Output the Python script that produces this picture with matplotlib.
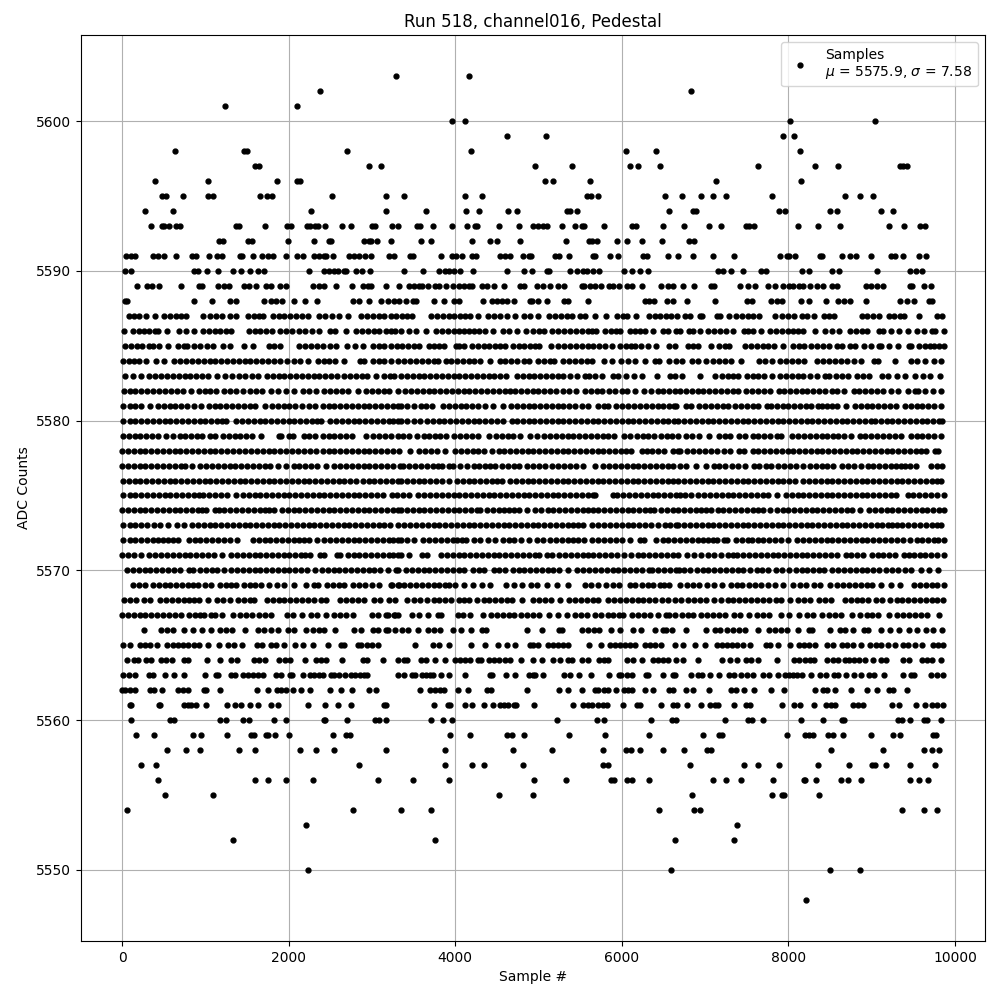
import numpy as np
import matplotlib
matplotlib.use('Agg')
import matplotlib.pyplot as plt

RUN = 518
CHANNEL = 'channel016'
MEAN = 5575.9
SIGMA = 7.58

# sample numbers, one list per ADC value
s5603 = [3284, 4160]
s5602 = [2372, 6836]
s5601 = [1232, 2096]
s5600 = [3956, 4112, 8024, 9044]
s5599 = [4616, 5096, 7940, 8072]
s5598 = [632, 1460, 1500, 2696, 4184, 6048, 6416, 8144]
s5597 = [1592, 1640, 2960, 3104, 4964, 5408, 6104, 6200, 6464, 7640, 8324, 8600, 9340, 9372, 9428]
s5596 = [392, 1028, 1856, 2096, 2140, 5084, 5180, 5624, 7136, 8156]
s5595 = [476, 524, 728, 1028, 1088, 1652, 1736, 1796, 2516, 3164, 3380, 4112, 4320, 5584, 5636, 5720, 6524, 6728, 6956,
         7100, 7256, 7808, 8684, 8864, 9020]
s5594 = [272, 608, 2264, 3164, 3644, 4124, 4280, 4628, 4736, 5348, 5380, 5468, 6572, 6860, 6888, 7892, 7964, 8500, 8580,
         9116, 9260]
s5593 = [344, 476, 500, 560, 644, 692, 1364, 1400, 1712, 1976, 2024, 2216, 2260, 2320, 2348, 2432, 2636, 2752, 2996, 3032,
         3236, 3308, 3536, 3572, 3728, 3956, 4140, 4232, 4260, 4520, 4760, 4932, 5000, 5052, 5108, 5288, 5444, 5520, 5548,
         5792, 6128, 6176, 6500, 6752, 7052, 7196, 7496, 7532, 7592, 8120, 8360, 8624, 9212, 9392, 9584, 9644]
s5592 = [1160, 1208, 1508, 1564, 1988, 2300, 2480, 2508, 2900, 2960, 2988, 3056, 3224, 3584, 3704, 4196, 4412, 4496, 4772,
         5336, 5612, 5648, 5708, 5948, 6068, 6248, 6488, 6812, 6872]
s5591 = [44, 104, 152, 368, 428, 500, 644, 836, 892, 1040, 1136, 1196, 1412, 1440, 1568, 1676, 1748, 1808, 1964, 2104, 2168,
         2300, 2360, 2420, 2452, 2528, 2720, 2780, 2840, 2912, 2984, 3200, 3260, 3460, 3492, 3824, 3956, 4004, 4076, 4196,
         4244, 4540, 4596, 4660, 4808, 4880, 4908, 5204, 5252, 5372, 5660, 5684, 5864, 5960, 6260, 6308, 6560, 6680, 6860,
         7100, 7352, 7904, 7988, 8012, 8084, 8384, 8404, 8648, 8744, 8816, 8996, 9236, 9284, 9380, 9572, 9656]
s5590 = [32, 104, 860, 908, 1016, 1148, 1328, 1424, 1532, 1628, 1700, 2240, 2420, 2480, 2540, 2588, 2660, 2692, 2804, 2876,
         2972, 3380, 3608, 3800, 3872, 3920, 3980, 4052, 4208, 4616, 4820, 4920, 5108, 5124, 5384, 5468, 5540, 5588, 5660,
         5732, 6032, 6128, 6224, 6320, 7160, 7220, 7316, 7460, 7676, 7732, 8168, 8252, 8528, 8612, 9068, 9464, 9528, 9608]
s5589 = [176, 296, 356, 440, 704, 920, 956, 1148, 1220, 1280, 1460, 1520, 1604, 1724, 1784, 1892, 1964, 2288, 2360, 2420,
         2564, 2756, 2888, 2948, 2984, 3164, 3328, 3440, 3500, 3560, 3600, 3668, 3752, 3800, 3884, 3968, 4040, 4100, 4160,
         4196, 4320, 4380, 4460, 4588, 4772, 4820, 4980, 5052, 5140, 5236, 5312, 5520, 5548, 5624, 5684, 5756, 5852, 5900,
         5972, 6068, 6128, 6244, 6476, 6560, 6620, 6740, 6872, 7076, 7112, 7424, 7520, 7604, 7756, 7844, 7940, 8012, 8060,
         8132, 8180, 8264, 8348, 8420, 8528, 8588, 8936, 8996, 9068, 9140, 9464, 9488, 9632, 9708]
s5588 = [40, 60, 860, 1076, 1292, 1368, 1700, 1784, 1844, 1916, 2060, 2192, 2344, 2768, 2840, 2960, 3104, 3188, 3260, 3320,
         3404, 3488, 3524, 3740, 3860, 3980, 4040, 4328, 4440, 4500, 4560, 4620, 4700, 4892, 4920, 5000, 5108, 5312, 5360,
         5600, 6284, 6332, 6392, 6548, 6620, 6788, 7124, 7508, 7568, 7796, 7860, 7920, 8156, 8252, 8456, 8600, 8672, 8744,
         8936, 9344, 9428, 9512, 9692, 9728]
s5587 = [80, 140, 200, 290, 392, 508, 580, 650, 710, 772, 968, 1060, 1130, 1200, 1290, 1372, 1508, 1580, 1640, 1692, 1808,
         1880, 1950, 2020, 2090, 2160, 2232, 2368, 2440, 2520, 2600, 2712, 2868, 2940, 3010, 3080, 3150, 3224, 3290, 3360,
         3420, 3480, 3704, 3780, 3850, 3920, 3990, 4060, 4120, 4180, 4268, 4396, 4470, 4540, 4620, 4720, 4824, 4900, 4992,
         5124, 5200, 5270, 5340, 5400, 5496, 5560, 5680, 5808, 5948, 6010, 6060, 6176, 6324, 6400, 6460, 6532, 6590, 6660,
         6764, 6820, 6944, 6968, 7144, 7180, 7284, 7372, 7440, 7510, 7580, 7648, 7844, 7924, 7990, 8068, 8164, 8228, 8304,
         8424, 8490, 8548, 8884, 8950, 9020, 9088, 9204, 9270, 9340, 9388, 9568, 9784, 9848]
s5586 = [20, 136, 200, 260, 328, 390, 432, 540, 688, 772, 860, 968, 1040, 1120, 1180, 1248, 1304, 1520, 1590, 1660, 1730,
         1800, 1896, 1970, 2040, 2120, 2200, 2280, 2360, 2500, 2560, 2692, 2808, 2880, 2950, 3020, 3090, 3170, 3230, 3280,
         3352, 3440, 3532, 3652, 3764, 3840, 3910, 3980, 4050, 4110, 4160, 4228, 4290, 4352, 4448, 4568, 4640, 4740, 4848,
         4938, 5008, 5068, 5168, 5240, 5308, 5376, 5450, 5528, 5600, 5640, 5688, 5796, 5876, 5936, 5980, 6096, 6160, 6220,
         6284, 6380, 6496, 6560, 6648, 6700, 6804, 6850, 6940, 7036, 7110, 7180, 7248, 7336, 7464, 7520, 7580, 7676, 7784,
         7850, 7920, 7990, 8056, 8112, 8176, 8320, 8444, 8520, 8612, 8740, 8810, 8880, 8950, 9084, 9140, 9236, 9328, 9436,
         9540, 9628, 9724, 9760, 9868]
s5585 = [40, 108, 180, 240, 320, 372, 440, 552, 668, 740, 780, 868, 940, 1020, 1092, 1208, 1292, 1460, 1568, 1768, 1830,
         1892, 2128, 2200, 2270, 2340, 2410, 2500, 2572, 2700, 2796, 2892, 3008, 3080, 3150, 3230, 3300, 3356, 3430, 3500,
         3568, 3684, 3748, 3808, 3868, 4004, 4040, 4108, 4196, 4270, 4340, 4410, 4480, 4540, 4600, 4688, 4760, 4830, 4900,
         4960, 5008, 5148, 5236, 5310, 5380, 5450, 5520, 5590, 5660, 5730, 5800, 5880, 5980, 6056, 6108, 6160, 6236, 6310,
         6408, 6568, 6644, 6796, 6856, 6916, 7072, 7168, 7236, 7288, 7484, 7550, 7620, 7690, 7760, 7830, 7940, 8060, 8130,
         8188, 8272, 8340, 8420, 8488, 8584, 8650, 8740, 8804, 8904, 8988, 9084, 9116, 9204, 9316, 9444, 9468, 9564, 9640,
         9700, 9748, 9808, 9868]
s5584 = [8, 80, 140, 200, 292, 408, 504, 628, 700, 770, 840, 910, 980, 1050, 1120, 1190, 1260, 1330, 1400, 1470, 1540, 1610,
         1680, 1750, 1820, 1900, 1980, 2060, 2140, 2232, 2348, 2420, 2490, 2560, 2664, 2856, 2904, 3008, 3080, 3150, 3230,
         3316, 3390, 3460, 3530, 3600, 3670, 3740, 3792, 3884, 3950, 4020, 4090, 4160, 4230, 4300, 4420, 4536, 4600, 4670,
         4740, 4820, 4880, 5000, 5070, 5140, 5188, 5300, 5370, 5440, 5510, 5580, 5640, 5784, 5880, 5996, 6080, 6164, 6280,
         6404, 6448, 6572, 6650, 6728, 6844, 6920, 7008, 7100, 7170, 7240, 7316, 7436, 7652, 7720, 7808, 7904, 7970, 8040,
         8110, 8188, 8344, 8420, 8490, 8560, 8630, 8700, 8790, 8876, 9032, 9076, 9284, 9476, 9544, 9640, 9744, 9836]
s5583 = [40, 128, 232, 328, 400, 470, 540, 610, 680, 750, 820, 890, 960, 1030, 1144, 1240, 1320, 1400, 1480, 1560, 1632,
         1736, 1810, 1880, 1950, 2020, 2090, 2160, 2230, 2300, 2370, 2440, 2510, 2580, 2660, 2740, 2810, 2880, 2944, 3048,
         3148, 3220, 3270, 3350, 3416, 3490, 3560, 3630, 3700, 3770, 3840, 3910, 3980, 4050, 4120, 4190, 4260, 4330, 4400,
         4470, 4540, 4612, 4736, 4810, 4880, 4950, 5020, 5090, 5160, 5230, 5300, 5380, 5460, 5556, 5608, 5680, 5768, 5900,
         5960, 6056, 6148, 6248, 6424, 6584, 6644, 6728, 6936, 7124, 7208, 7276, 7340, 7396, 7504, 7570, 7640, 7710, 7808,
         7904, 7970, 8040, 8110, 8180, 8260, 8340, 8444, 8488, 8576, 8650, 8720, 8828, 8896, 8968, 9124, 9200, 9308, 9396,
         9516, 9616, 9704, 9816]
s5582 = [28, 100, 152, 228, 300, 372, 448, 520, 590, 660, 730, 832, 928, 1000, 1060, 1132, 1220, 1300, 1370, 1452, 1540,
         1610, 1680, 1792, 1868, 1972, 2068, 2172, 2248, 2332, 2428, 2500, 2570, 2640, 2710, 2832, 2928, 3000, 3070, 3140,
         3210, 3312, 3396, 3470, 3540, 3610, 3680, 3750, 3820, 3890, 3960, 4030, 4100, 4170, 4240, 4310, 4380, 4450, 4520,
         4592, 4660, 4716, 4790, 4860, 4930, 5000, 5070, 5140, 5210, 5290, 5368, 5452, 5564, 5630, 5700, 5768, 5848, 5920,
         6008, 6068, 6156, 6272, 6356, 6430, 6500, 6570, 6640, 6700, 6770, 6840, 6910, 6980, 7050, 7120, 7190, 7260, 7330,
         7400, 7488, 7564, 7640, 7710, 7780, 7888, 7952, 8020, 8090, 8160, 8230, 8300, 8370, 8440, 8520, 8590, 8668, 8784,
         8850, 8920, 8990, 9060, 9140, 9228, 9316, 9436, 9516, 9556, 9644, 9740, 9832]
s5581 = [16, 90, 160, 230, 332, 428, 500, 570, 640, 710, 780, 860, 952, 1040, 1110, 1180, 1250, 1320, 1390, 1460, 1530,
         1600, 1712, 1796, 1870, 1940, 2010, 2080, 2160, 2240, 2312, 2408, 2480, 2550, 2620, 2690, 2760, 2830, 2900, 2970,
         3040, 3110, 3180, 3250, 3312, 3350, 3420, 3500, 3584, 3650, 3716, 3856, 3924, 4000, 4070, 4130, 4200, 4270, 4352,
         4448, 4568, 4668, 4740, 4810, 4880, 4950, 5020, 5090, 5160, 5230, 5300, 5370, 5440, 5520, 5592, 5716, 5790, 5840,
         5928, 6004, 6080, 6150, 6220, 6290, 6360, 6430, 6500, 6570, 6630, 6656, 6772, 6836, 6924, 7000, 7070, 7140, 7210,
         7280, 7364, 7430, 7500, 7570, 7640, 7748, 7788, 7864, 7930, 8000, 8070, 8140, 8210, 8276, 8356, 8410, 8468, 8524,
         8588, 8688, 8796, 8870, 8940, 9010, 9080, 9150, 9220, 9288, 9396, 9470, 9540, 9610, 9680, 9750, 9828]
s5580 = [16, 90, 160, 230, 300, 370, 440, 510, 580, 650, 720, 790, 860, 930, 1000, 1070, 1140, 1200, 1252, 1368, 1440, 1510,
         1580, 1650, 1720, 1790, 1860, 1930, 2000, 2070, 2140, 2212, 2280, 2340, 2392, 2496, 2570, 2640, 2710, 2780, 2850,
         2920, 2990, 3060, 3130, 3200, 3250, 3312, 3350, 3420, 3500, 3572, 3656, 3730, 3800, 3870, 3940, 4010, 4080, 4150,
         4220, 4290, 4360, 4430, 4500, 4570, 4680, 4736, 4810, 4880, 4950, 5020, 5090, 5160, 5230, 5300, 5370, 5440, 5510,
         5580, 5650, 5720, 5790, 5860, 5930, 6000, 6070, 6140, 6210, 6280, 6350, 6420, 6490, 6560, 6630, 6680, 6750, 6820,
         6890, 6960, 7030, 7100, 7170, 7240, 7310, 7380, 7450, 7520, 7590, 7660, 7730, 7800, 7870, 7940, 8010, 8080, 8150,
         8220, 8290, 8360, 8430, 8500, 8570, 8640, 8710, 8780, 8850, 8920, 8990, 9040, 9112, 9180, 9250, 9320, 9390, 9460,
         9530, 9600, 9670, 9740, 9810, 9848]
s5579 = [8, 80, 150, 220, 290, 360, 430, 532, 616, 690, 760, 830, 900, 960, 1056, 1120, 1208, 1280, 1350, 1420, 1490, 1560,
         1672, 1880, 1912, 2000, 2052, 2188, 2250, 2312, 2408, 2480, 2550, 2620, 2690, 2760, 2932, 3016, 3090, 3160, 3230,
         3312, 3368, 3444, 3536, 3620, 3688, 3752, 3816, 3892, 3988, 4060, 4130, 4200, 4270, 4400, 4488, 4560, 4628, 4696,
         4776, 4900, 4984, 5068, 5140, 5210, 5280, 5350, 5420, 5490, 5560, 5630, 5700, 5770, 5840, 5912, 6024, 6104, 6180,
         6250, 6320, 6390, 6470, 6540, 6608, 6680, 6770, 6840, 6928, 7044, 7168, 7236, 7300, 7408, 7484, 7572, 7640, 7710,
         7780, 7860, 7916, 8044, 8120, 8190, 8260, 8330, 8400, 8470, 8540, 8600, 8668, 8752, 8860, 8916, 8992, 9070, 9140,
         9210, 9280, 9356, 9472, 9540, 9610, 9680, 9750, 9836]
s5578 = [0, 70, 140, 210, 280, 350, 420, 490, 560, 630, 700, 770, 840, 910, 980, 1050, 1120, 1190, 1260, 1330, 1400, 1480,
         1552, 1616, 1690, 1760, 1830, 1900, 1970, 2040, 2110, 2180, 2260, 2332, 2408, 2480, 2550, 2620, 2690, 2760, 2830,
         2900, 2970, 3040, 3110, 3180, 3250, 3328, 3460, 3560, 3640, 3710, 3780, 3872, 4000, 4070, 4140, 4210, 4270, 4340,
         4444, 4520, 4590, 4660, 4730, 4800, 4870, 4940, 5010, 5080, 5150, 5220, 5290, 5360, 5430, 5500, 5570, 5640, 5710,
         5780, 5850, 5920, 5990, 6050, 6112, 6244, 6300, 6360, 6436, 6512, 6616, 6680, 6696, 6784, 6860, 6930, 7000, 7070,
         7148, 7224, 7300, 7404, 7468, 7572, 7640, 7710, 7780, 7850, 7920, 7990, 8060, 8130, 8200, 8270, 8340, 8410, 8480,
         8550, 8620, 8690, 8760, 8830, 8900, 8970, 9040, 9110, 9180, 9250, 9320, 9390, 9460, 9530, 9590, 9648, 9764, 9796]
s5577 = [0, 70, 140, 210, 280, 350, 420, 490, 560, 632, 708, 760, 836, 936, 1010, 1080, 1150, 1220, 1290, 1360, 1430, 1500,
         1572, 1640, 1710, 1772, 1868, 1972, 2060, 2130, 2200, 2270, 2340, 2452, 2548, 2620, 2690, 2760, 2830, 2900, 2970,
         3040, 3110, 3180, 3252, 3340, 3376, 3450, 3520, 3590, 3660, 3730, 3790, 3840, 3928, 3976, 4060, 4144, 4220, 4290,
         4360, 4420, 4480, 4556, 4630, 4700, 4770, 4860, 4936, 5010, 5080, 5160, 5236, 5310, 5380, 5450, 5540, 5680, 5776,
         5850, 5920, 5990, 6060, 6130, 6200, 6270, 6340, 6410, 6480, 6550, 6620, 6700, 6770, 6888, 7016, 7104, 7168, 7244,
         7320, 7396, 7484, 7588, 7652, 7728, 7792, 7876, 7944, 8020, 8090, 8176, 8260, 8330, 8400, 8470, 8540, 8648, 8716,
         8790, 8876, 8952, 9020, 9090, 9160, 9230, 9290, 9348, 9396, 9456, 9536, 9712, 9780, 9848]
s5576 = [8, 80, 150, 220, 290, 360, 430, 500, 570, 640, 710, 780, 850, 920, 990, 1060, 1130, 1200, 1270, 1340, 1410, 1480,
         1550, 1620, 1690, 1760, 1830, 1900, 1970, 2040, 2110, 2180, 2250, 2320, 2390, 2460, 2530, 2600, 2670, 2740, 2812,
         2888, 2960, 3030, 3100, 3170, 3240, 3312, 3350, 3420, 3490, 3560, 3630, 3700, 3770, 3840, 3920, 4016, 4090, 4160,
         4230, 4300, 4370, 4440, 4500, 4560, 4656, 4730, 4800, 4870, 4940, 5010, 5080, 5150, 5220, 5290, 5360, 5430, 5500,
         5570, 5640, 5710, 5780, 5850, 5920, 5990, 6060, 6130, 6200, 6270, 6340, 6410, 6480, 6550, 6620, 6680, 6750, 6820,
         6890, 6960, 7030, 7100, 7170, 7240, 7310, 7380, 7450, 7520, 7590, 7660, 7730, 7800, 7870, 7940, 8010, 8076, 8176,
         8250, 8320, 8390, 8460, 8530, 8600, 8670, 8740, 8810, 8880, 8950, 9020, 9090, 9160, 9230, 9300, 9370, 9440, 9510,
         9580, 9650, 9720, 9780, 9836]
s5575 = [16, 90, 160, 230, 300, 370, 440, 510, 580, 650, 720, 790, 860, 920, 972, 1048, 1120, 1190, 1260, 1372, 1448, 1520,
         1590, 1660, 1730, 1800, 1870, 1940, 2010, 2080, 2150, 2220, 2290, 2360, 2430, 2500, 2570, 2640, 2710, 2780, 2850,
         2920, 2990, 3060, 3130, 3236, 3300, 3370, 3440, 3556, 3630, 3700, 3770, 3840, 3910, 3980, 4050, 4120, 4190, 4260,
         4330, 4400, 4470, 4540, 4610, 4680, 4750, 4820, 4890, 4960, 5030, 5100, 5170, 5240, 5310, 5380, 5450, 5520, 5590,
         5660, 5680, 5896, 5940, 6016, 6090, 6160, 6230, 6300, 6370, 6440, 6510, 6580, 6650, 6700, 6760, 6828, 6916, 6992,
         7060, 7130, 7200, 7270, 7340, 7410, 7480, 7550, 7620, 7690, 7760, 7860, 7972, 8040, 8110, 8180, 8250, 8320, 8390,
         8460, 8530, 8600, 8670, 8740, 8810, 8880, 8950, 9020, 9090, 9160, 9230, 9288, 9432, 9500, 9570, 9640, 9710, 9780,
         9868]
s5574 = [0, 70, 140, 210, 280, 350, 420, 490, 560, 630, 700, 770, 840, 910, 960, 1012, 1120, 1160, 1228, 1300, 1370, 1440,
         1510, 1580, 1650, 1720, 1770, 1824, 1916, 1990, 2060, 2130, 2200, 2270, 2340, 2410, 2480, 2550, 2620, 2690, 2760,
         2830, 2900, 2970, 3040, 3110, 3180, 3250, 3312, 3350, 3420, 3490, 3560, 3630, 3700, 3770, 3840, 3910, 3980, 4050,
         4120, 4190, 4260, 4300, 4376, 4450, 4520, 4580, 4648, 4708, 4768, 4856, 4960, 5036, 5110, 5180, 5250, 5320, 5390,
         5460, 5530, 5600, 5660, 5720, 5788, 5860, 5930, 6000, 6070, 6140, 6210, 6280, 6340, 6392, 6468, 6540, 6610, 6676,
         6748, 6820, 6890, 6950, 7008, 7076, 7150, 7220, 7290, 7360, 7430, 7500, 7570, 7640, 7700, 7784, 7860, 7930, 8000,
         8070, 8140, 8210, 8280, 8350, 8420, 8490, 8560, 8630, 8700, 8770, 8860, 8972, 9040, 9110, 9180, 9250, 9320, 9390,
         9460, 9530, 9600, 9670, 9740, 9810, 9868]
s5573 = [16, 90, 160, 230, 300, 384, 452, 552, 656, 744, 840, 910, 980, 1050, 1120, 1190, 1260, 1330, 1400, 1470, 1540,
         1610, 1680, 1750, 1820, 1890, 1960, 2030, 2100, 2170, 2240, 2310, 2380, 2450, 2520, 2590, 2660, 2730, 2800, 2870,
         2940, 3010, 3080, 3150, 3220, 3312, 3390, 3460, 3530, 3600, 3670, 3740, 3810, 3880, 3950, 4020, 4090, 4160, 4230,
         4300, 4370, 4440, 4510, 4580, 4650, 4720, 4790, 4860, 4930, 5000, 5070, 5140, 5210, 5280, 5350, 5420, 5480, 5540,
         5644, 5720, 5790, 5860, 5930, 6000, 6070, 6140, 6210, 6280, 6350, 6430, 6520, 6580, 6650, 6680, 6750, 6820, 6890,
         6960, 7030, 7100, 7170, 7240, 7310, 7380, 7450, 7520, 7590, 7660, 7730, 7800, 7870, 7940, 8010, 8080, 8150, 8220,
         8290, 8360, 8430, 8500, 8570, 8640, 8710, 8780, 8850, 8920, 8990, 9060, 9130, 9200, 9250, 9308, 9364, 9440, 9510,
         9580, 9650, 9720, 9780, 9836]
s5572 = [16, 90, 160, 230, 300, 370, 430, 492, 556, 610, 672, 800, 870, 940, 1010, 1080, 1150, 1220, 1292, 1376, 1568, 1640,
         1710, 1780, 1850, 1920, 1990, 2060, 2130, 2190, 2240, 2340, 2428, 2500, 2570, 2640, 2710, 2780, 2850, 2920, 2990,
         3060, 3130, 3200, 3250, 3312, 3350, 3420, 3500, 3616, 3690, 3760, 3830, 3900, 3970, 4020, 4080, 4128, 4228, 4300,
         4396, 4476, 4568, 4640, 4710, 4792, 4888, 4984, 5060, 5136, 5210, 5280, 5350, 5420, 5480, 5548, 5640, 5716, 5790,
         5860, 5930, 6000, 6100, 6216, 6272, 6416, 6490, 6560, 6630, 6700, 6770, 6840, 6910, 6980, 7040, 7090, 7148, 7224,
         7268, 7372, 7440, 7510, 7560, 7632, 7700, 7770, 7840, 7910, 7996, 8104, 8180, 8250, 8320, 8390, 8460, 8530, 8600,
         8670, 8740, 8810, 8880, 8950, 9020, 9090, 9160, 9230, 9300, 9380, 9464, 9540, 9610, 9680, 9750, 9800, 9868]
s5571 = [0, 70, 140, 232, 328, 400, 470, 540, 610, 680, 750, 820, 890, 960, 1030, 1100, 1200, 1308, 1380, 1450, 1520, 1590,
         1660, 1730, 1800, 1870, 1940, 2010, 2080, 2150, 2200, 2252, 2376, 2424, 2576, 2612, 2708, 2780, 2850, 2920, 2990,
         3060, 3130, 3200, 3250, 3312, 3350, 3448, 3596, 3660, 3824, 3900, 3970, 4040, 4110, 4180, 4250, 4320, 4390, 4460,
         4530, 4600, 4670, 4740, 4810, 4880, 4960, 5008, 5104, 5168, 5248, 5320, 5390, 5460, 5530, 5592, 5656, 5730, 5800,
         5870, 5940, 6032, 6116, 6190, 6260, 6330, 6400, 6470, 6540, 6610, 6680, 6788, 6868, 6956, 7030, 7108, 7196, 7270,
         7330, 7388, 7456, 7530, 7600, 7670, 7740, 7810, 7880, 7950, 8020, 8090, 8160, 8228, 8292, 8370, 8440, 8510, 8580,
         8688, 8756, 8830, 8900, 9000, 9072, 9140, 9210, 9276, 9392, 9450, 9508, 9584, 9640, 9716, 9790, 9868]
s5570 = [56, 130, 200, 270, 340, 410, 480, 550, 620, 692, 800, 852, 940, 1010, 1080, 1140, 1224, 1308, 1380, 1450, 1520,
         1590, 1660, 1730, 1800, 1870, 1940, 2010, 2080, 2150, 2220, 2312, 2396, 2468, 2540, 2610, 2680, 2750, 2820, 2890,
         2960, 3030, 3100, 3192, 3288, 3316, 3408, 3480, 3550, 3620, 3690, 3760, 3830, 3900, 3970, 4040, 4100, 4208, 4280,
         4340, 4464, 4530, 4592, 4688, 4760, 4830, 4900, 4970, 5040, 5110, 5180, 5250, 5360, 5464, 5540, 5610, 5680, 5750,
         5820, 5890, 5960, 6030, 6100, 6168, 6248, 6324, 6360, 6436, 6510, 6580, 6650, 6690, 6752, 6824, 6900, 6970, 7040,
         7110, 7180, 7250, 7320, 7390, 7460, 7540, 7628, 7684, 7760, 7850, 7928, 8012, 8090, 8160, 8230, 8300, 8370, 8428,
         8524, 8600, 8670, 8740, 8810, 8880, 8950, 9020, 9088, 9172, 9250, 9320, 9400, 9468, 9592, 9684, 9800]
s5569 = [128, 200, 272, 368, 440, 510, 580, 650, 720, 790, 850, 912, 1000, 1064, 1176, 1250, 1310, 1372, 1468, 1540, 1600,
         1672, 1760, 1864, 1948, 2064, 2208, 2308, 2352, 2456, 2530, 2600, 2664, 2776, 2850, 2920, 3000, 3080, 3228, 3312,
         3244, 3320, 3390, 3460, 3530, 3600, 3670, 3740, 3810, 3880, 3928, 4000, 4108, 4208, 4316, 4420, 4604, 4708, 4804,
         4904, 4980, 5100, 5220, 5360, 5564, 5628, 5720, 5816, 5890, 5968, 6096, 6160, 6248, 6320, 6380, 6460, 6504, 6568,
         6704, 6784, 6860, 6930, 7020, 7112, 7208, 7312, 7380, 7448, 7528, 7600, 7670, 7760, 7844, 7936, 8060, 8136, 8210,
         8308, 8384, 8496, 8584, 8660, 8730, 8800, 8870, 8940, 9010, 9110, 9228, 9344, 9504, 9580, 9650, 9720, 9790, 9868]
s5568 = [28, 100, 170, 260, 332, 460, 530, 600, 670, 740, 800, 860, 920, 1028, 1136, 1210, 1292, 1388, 1460, 1530, 1584,
         1736, 1810, 1880, 1950, 2020, 2090, 2160, 2230, 2310, 2390, 2452, 2620, 2690, 2760, 2830, 2900, 3020, 3092, 3208,
         3272, 3424, 3500, 3580, 3664, 3740, 3810, 3880, 3952, 4048, 4100, 4168, 4264, 4340, 4410, 4480, 4550, 4620, 4680,
         4800, 4940, 5004, 5080, 5150, 5260, 5368, 5440, 5510, 5580, 5650, 5720, 5836, 5910, 5980, 6050, 6120, 6190, 6260,
         6330, 6400, 6488, 6560, 6640, 6716, 6796, 6870, 6940, 7010, 7108, 7192, 7270, 7340, 7410, 7480, 7550, 7620, 7690,
         7770, 7848, 7916, 8020, 8116, 8188, 8264, 8372, 8440, 8508, 8676, 8750, 8820, 8890, 8960, 9050, 9128, 9224, 9300,
         9370, 9440, 9510, 9580, 9650, 9720, 9790, 9860]
s5567 = [0, 70, 140, 210, 280, 350, 420, 490, 560, 640, 712, 800, 870, 930, 984, 1068, 1112, 1204, 1336, 1410, 1492, 1560,
         1648, 1720, 1792, 1976, 2050, 2160, 2268, 2340, 2452, 2548, 2620, 2692, 2768, 2996, 3070, 3172, 3268, 3312, 3196,
         3276, 3484, 3560, 3668, 3788, 3828, 4028, 4096, 4180, 4328, 4424, 4500, 4570, 4640, 4700, 4784, 4860, 4932, 5008,
         5128, 5236, 5348, 5436, 5510, 5580, 5680, 5756, 5830, 5900, 5970, 6020, 6128, 6200, 6270, 6340, 6440, 6532, 6568,
         6644, 6720, 6790, 6860, 6956, 7024, 7100, 7170, 7240, 7348, 7424, 7528, 7624, 7700, 7770, 7908, 8004, 8128, 8224,
         8300, 8408, 8484, 8560, 8630, 8768, 8864, 8940, 9010, 9080, 9208, 9304, 9380, 9450, 9520, 9590, 9660, 9808]
s5566 = [260, 468, 540, 612, 748, 852, 956, 1072, 1176, 1250, 1320, 1472, 1628, 1700, 1790, 1872, 1988, 2060, 2212, 2288,
         2360, 2430, 2552, 2788, 2872, 3008, 3072, 3168, 3272, 3196, 3356, 3432, 3556, 3676, 3750, 3820, 3968, 4064, 4192,
         4316, 4372, 4860, 5044, 5248, 5280, 5524, 5600, 5670, 5728, 5876, 5980, 6136, 6232, 6404, 6496, 6536, 6608, 6776,
         7012, 7124, 7176, 7264, 7340, 7410, 7480, 7636, 7764, 7840, 7910, 7980, 8116, 8244, 8288, 8496, 8616, 8684, 8776,
         8912, 8960, 9112, 9216, 9324, 9448, 9544, 9652, 9736, 9848]
s5565 = [8, 92, 212, 272, 332, 416, 536, 608, 668, 728, 788, 860, 920, 1028, 1160, 1268, 1340, 1436, 1616, 1676, 1784, 1844,
         1940, 2072, 2168, 2288, 2468, 2624, 2660, 2828, 2864, 2936, 2996, 3068, 3512, 3728, 3800, 3920, 4184, 4352, 4508,
         4616, 4712, 4892, 4940, 5000, 5120, 5180, 5240, 5300, 5352, 5612, 5748, 5864, 5924, 5984, 6044, 6104, 6164, 6284,
         6344, 6404, 6476, 6644, 6740, 6884, 7004, 7148, 7208, 7268, 7328, 7388, 7460, 7544, 7736, 7784, 7880, 8024, 8132,
         8192, 8252, 8324, 8468, 8540, 8648, 8708, 8780, 8876, 8984, 9056, 9116, 9200, 9284, 9380, 9440, 9524, 9608, 9740,
         9800, 9860]
s5564 = [60, 140, 188, 284, 348, 464, 524, 596, 740, 788, 1016, 1172, 1304, 1376, 1580, 1640, 1712, 1880, 1952, 2012, 2192,
         2324, 2384, 2444, 2636, 2888, 2936, 3128, 3308, 3380, 3416, 3584, 3644, 3752, 3872, 3992, 4052, 4112, 4172, 4268,
         4304, 4400, 4460, 4520, 4592, 4652, 4788, 4940, 5048, 5180, 5264, 5360, 5408, 5528, 5600, 5732, 5792, 5840, 6068,
         6140, 6248, 6380, 6440, 6500, 6560, 6656, 6740, 6920, 7208, 7304, 7388, 7496, 7556, 7640, 7868, 8072, 8132, 8204,
         8264, 8312, 8468, 8540, 8600, 8684, 8732, 8792, 8852, 8924, 9020, 9116, 9176, 9380, 9452, 9608, 9668, 9728, 9836]
s5563 = [8, 80, 152, 320, 368, 512, 620, 740, 992, 1124, 1148, 1304, 1352, 1448, 1508, 1568, 1628, 1688, 1844, 1904, 2012,
         2036, 2168, 2252, 2300, 2360, 2408, 2504, 2540, 2600, 2672, 2744, 2792, 2852, 2900, 2940, 3308, 3380, 3476, 3512,
         3596, 3644, 3692, 3728, 3824, 3920, 4112, 4412, 4436, 4604, 4712, 4880, 4940, 4964, 5060, 5312, 5384, 5488, 5636,
         5852, 5972, 5996, 6068, 6128, 6296, 6320, 6500, 6620, 6644, 6836, 6920, 6968, 7064, 7168, 7292, 7352, 7436, 7508,
         7580, 7700, 7772, 7880, 7964, 8012, 8060, 8108, 8168, 8276, 8384, 8456, 8552, 8600, 8696, 8792, 8876, 8972, 9032,
         9152, 9380, 9476, 9512, 9716, 9788, 9860]
s5562 = [0, 40, 100, 160, 340, 380, 476, 668, 728, 788, 980, 1012, 1172, 1616, 1748, 1856, 1904, 1964, 2048, 2144, 2252,
         2492, 2624, 2756, 2960, 3044, 3572, 3692, 3752, 3812, 3860, 4028, 4148, 4376, 4424, 4856, 5252, 5360, 5528, 5684,
         5720, 5792, 5840, 5936, 6032, 6080, 6128, 6284, 6380, 6572, 6620, 6776, 6860, 7052, 7316, 7376, 7472, 7592, 7796,
         7952, 8324, 8420, 8468, 8564, 8756, 8948, 9068, 9212, 9260, 9428]
s5561 = [92, 108, 440, 460, 740, 788, 832, 892, 1004, 1256, 1352, 1424, 1532, 1628, 1784, 1868, 2228, 2432, 2588, 2744,
         3140, 3164, 3740, 3908, 3932, 4112, 4196, 4340, 4448, 4532, 4580, 4628, 4700, 4724, 4952, 5420, 5540, 5600, 5648,
         5720, 5780, 5828, 6020, 6188, 6224, 6476, 6620, 6668, 6788, 6956, 7064, 7124, 7160, 7352, 7496, 7544, 7928, 8072,
         8144, 8312, 8456, 8516, 8564, 8780, 8840, 8900, 9248, 9332, 9536, 9644, 9728, 9788, 9860]
s5560 = [104, 572, 620, 1172, 1244, 1448, 1520, 1820, 1964, 2420, 2432, 2696, 3032, 3080, 3164, 3704, 3848, 3956, 5228,
         5708, 5792, 6356, 6608, 6656, 7244, 7520, 7568, 7700, 8156, 8420, 8648, 8672, 9320, 9368, 9464, 9632, 9660, 9836]
s5559 = [164, 380, 848, 944, 1256, 1544, 1580, 1724, 1748, 1832, 2000, 2528, 2684, 2732, 3932, 4172, 4616, 4676, 4820, 5372,
         5804, 6332, 6980, 7172, 7208, 7988, 8204, 8252, 8300, 8480, 8540, 8660, 8996, 9260, 9344, 9740, 9768]
s5558 = [536, 764, 932, 1400, 1592, 2132, 2324, 2540, 3164, 3872, 4688, 5168, 5780, 6056, 6108, 6224, 6500, 6752, 7028, 7068,
         8516, 9140, 9632, 9728, 9812]
s5557 = [224, 404, 2840, 3872, 4196, 4340, 4808, 5780, 5840, 6824, 7472, 7640, 7892, 8360, 8732, 9008, 9044, 9176, 9464, 9764]
s5556 = [428, 1592, 1748, 1964, 2288, 3068, 3488, 3920, 4952, 5336, 5876, 5912, 6068, 6128, 6332, 7100, 7256, 7436, 7820,
         8192, 8204, 8336, 8636, 8720, 8876, 9464, 9572, 9680]
s5555 = [512, 1088, 4520, 4940, 6848, 7808, 7928, 7948, 8372]
s5554 = [56, 2768, 3344, 3704, 6452, 6872, 6944, 9368, 9632, 9788]
s5553 = [2204, 7388]
s5552 = [1328, 3752, 6644, 7352]
s5550 = [2228, 6596, 8504, 8864]
s5548 = [8216]

adc_values = [5603, 5602, 5601, 5600, 5599, 5598, 5597, 5596, 5595, 5594, 5593, 5592, 5591, 5590, 5589, 5588, 5587, 5586,
              5585, 5584, 5583, 5582, 5581, 5580, 5579, 5578, 5577, 5576, 5575, 5574, 5573, 5572, 5571, 5570, 5569, 5568,
              5567, 5566, 5565, 5564, 5563, 5562, 5561, 5560, 5559, 5558, 5557, 5556, 5555, 5554, 5553, 5552, 5550, 5548]
sample_lists = [s5603, s5602, s5601, s5600, s5599, s5598, s5597, s5596, s5595, s5594, s5593, s5592, s5591, s5590, s5589,
                s5588, s5587, s5586, s5585, s5584, s5583, s5582, s5581, s5580, s5579, s5578, s5577, s5576, s5575, s5574,
                s5573, s5572, s5571, s5570, s5569, s5568, s5567, s5566, s5565, s5564, s5563, s5562, s5561, s5560, s5559,
                s5558, s5557, s5556, s5555, s5554, s5553, s5552, s5550, s5548]


def main():
    x = np.concatenate([np.array(s) for s in sample_lists])
    y = np.concatenate([np.full(len(s), v) for s, v in zip(sample_lists, adc_values)])

    fig, ax = plt.subplots(figsize=(10, 10), dpi=100)
    ax.plot(x, y, 'k.', ms=7, label=f'Samples\n$\\mu$ = {MEAN}, $\\sigma$ = {SIGMA}')
    ax.set(xlabel='Sample #', ylabel='ADC Counts', title=f'Run {RUN}, {CHANNEL}, Pedestal')
    ax.legend(loc='upper right')
    ax.grid()
    fig.subplots_adjust(left=0.081, right=0.985, top=0.965, bottom=0.059)
    fig.savefig('out.png', dpi=100)
    plt.close('all')


if __name__ == '__main__':
    main()
